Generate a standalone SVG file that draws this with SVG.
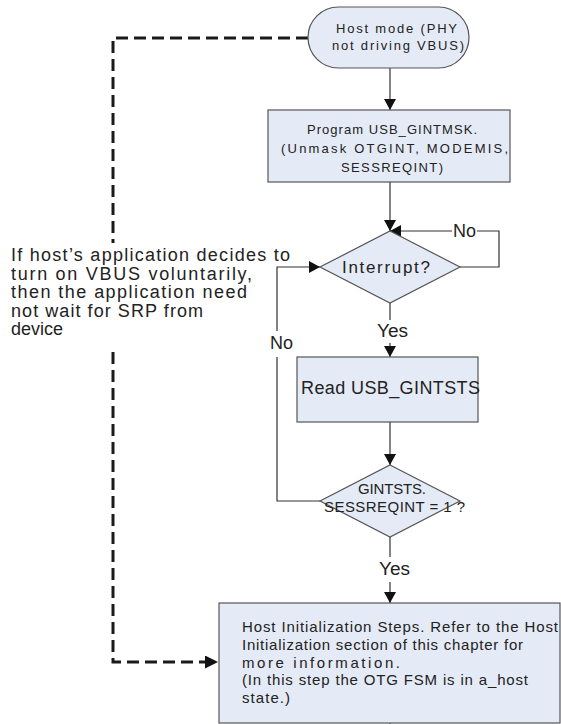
<svg xmlns="http://www.w3.org/2000/svg" width="561" height="724" viewBox="0 0 561 724">
<style>
.box{fill:#E5EBF6;stroke:#555;stroke-width:1.2}
.t{font-family:"Liberation Sans",Arial,sans-serif;fill:#222}
.ln{fill:none;stroke:#333;stroke-width:1.2}
.dash{fill:none;stroke:#1a1a1a;stroke-width:3;stroke-dasharray:12 6}
.f13{font-size:13px}
.f15{font-size:15px}
.f17{font-size:17px}
.f18{font-size:18px}
</style>
<defs>
<marker id="ah" markerUnits="userSpaceOnUse" viewBox="0 0 11 12" markerWidth="11" markerHeight="12" refX="11" refY="6" orient="auto"><path d="M0,0 L11,6 L0,12 z" fill="#111"/></marker>
<marker id="ahd" markerUnits="userSpaceOnUse" viewBox="0 0 13 13" markerWidth="13" markerHeight="13" refX="9" refY="6.5" orient="auto"><path d="M0,0 L13,6.5 L0,13 z" fill="#111"/></marker>
</defs>

<g id="connectors">
<path class="ln" d="M390,68 V110" marker-end="url(#ah)"/>
<path class="ln" d="M390,182 V231" marker-end="url(#ah)"/>
<path class="ln" d="M460,267 H499 V231 H477"/>
<path class="ln" d="M452,231 H390" marker-end="url(#ah)"/>
<path class="ln" d="M390,303 V320"/>
<path class="ln" d="M390,343 V357" marker-end="url(#ah)"/>
<path class="ln" d="M390,422 V465" marker-end="url(#ah)"/>
<path class="ln" d="M320,501 H277 V357"/>
<path class="ln" d="M277,331 V267 H320" marker-end="url(#ah)"/>
<path class="ln" d="M390,537 V557"/>
<path class="ln" d="M390,582 V603" marker-end="url(#ah)"/>
<path class="ln" d="M390,723 V724"/>
<path class="dash" d="M308,38 H113 V243"/>
<path class="dash" d="M113,352 V662 H214" marker-end="url(#ahd)"/>
<text class="t f18" x="453" y="237" textLength="23" lengthAdjust="spacingAndGlyphs">No</text>
<text class="t f18" x="377" y="337" textLength="31" lengthAdjust="spacingAndGlyphs">Yes</text>
<text class="t f18" x="270" y="349" textLength="23" lengthAdjust="spacingAndGlyphs">No</text>
<text class="t f18" x="379" y="575" textLength="31" lengthAdjust="spacingAndGlyphs">Yes</text>
</g>

<g id="start">
<rect class="box" x="308" y="7" width="161" height="61" rx="30.5" ry="30.5"/>
<text class="t f13" x="336" y="33" textLength="121">Host mode (PHY</text>
<text class="t f13" x="332" y="50" textLength="132">not driving VBUS)</text>
</g>

<g id="program-mask">
<rect class="box" x="268" y="110" width="242" height="72"/>
<text class="t f13" x="307" y="133.5" textLength="170">Program USB_GINTMSK.</text>
<text class="t f13" x="281" y="152.5" textLength="227">(Unmask OTGINT, MODEMIS,</text>
<text class="t f13" x="341" y="171.5" textLength="102">SESSREQINT)</text>
</g>

<g id="interrupt">
<polygon class="box" points="390,231 460,267 390,303 320,267"/>
<text class="t f17" x="342" y="273" textLength="88">Interrupt?</text>
</g>

<g id="read-gintsts">
<rect class="box" x="297" y="357" width="181" height="65"/>
<text class="t f18" x="301" y="394" textLength="179">Read USB_GINTSTS</text>
</g>

<g id="sessreqint">
<polygon class="box" points="390,465 460,501 390,537 320,501"/>
<text class="t f15" x="358" y="494" textLength="68">GINTSTS.</text>
<text class="t f15" x="324" y="512" textLength="141">SESSREQINT = 1 ?</text>
</g>

<g id="host-init">
<rect class="box" x="219" y="603" width="341" height="120"/>
<text class="t f15" x="242" y="632" textLength="316">Host Initialization Steps. Refer to the Host</text>
<text class="t f15" x="242" y="650" textLength="281">Initialization section of this chapter for</text>
<text class="t f15" x="242" y="667.5" textLength="158">more information.</text>
<text class="t f15" x="242" y="685" textLength="286">(In this step the OTG FSM is in a_host</text>
<text class="t f15" x="242" y="703" textLength="48">state.)</text>
</g>

<g id="note">
<text class="t f18" x="11" y="261" textLength="279">If host’s application decides to</text>
<text class="t f18" x="11" y="279.5" textLength="241">turn on VBUS voluntarily,</text>
<text class="t f18" x="11" y="298" textLength="236">then the application need</text>
<text class="t f18" x="11" y="316.5" textLength="192">not wait for SRP from</text>
<text class="t f18" x="11" y="335" textLength="52">device</text>
</g>
</svg>
